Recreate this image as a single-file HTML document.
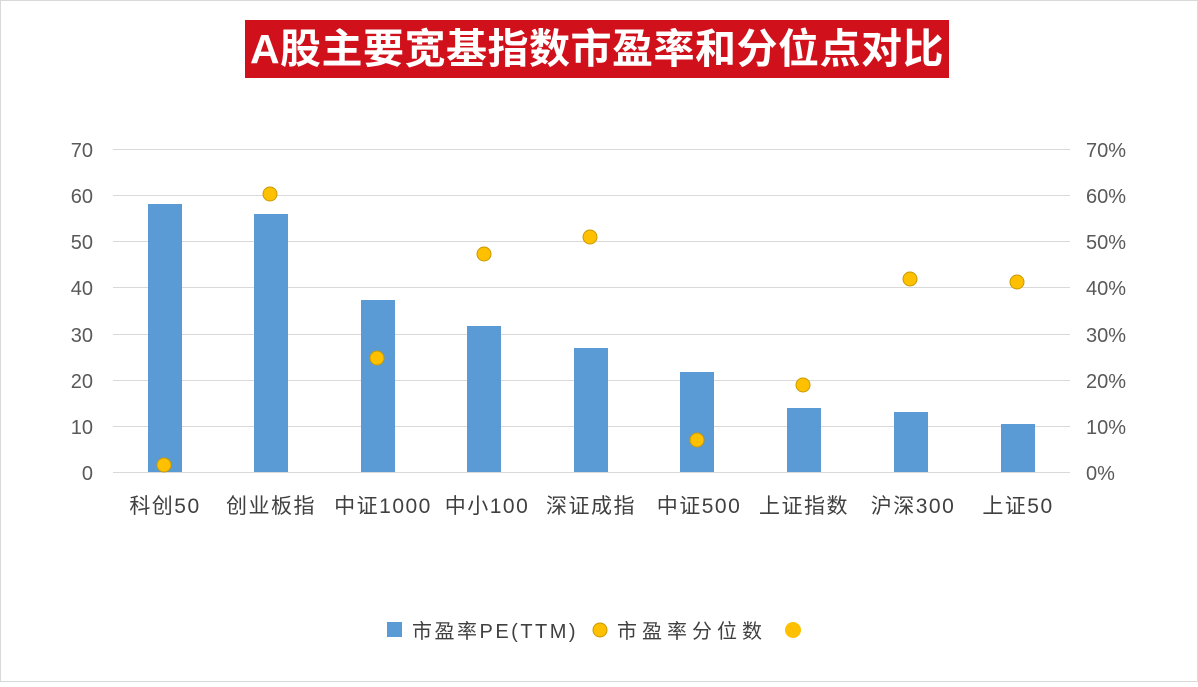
<!DOCTYPE html>
<html><head><meta charset="utf-8"><style>
body{margin:0;background:#fff;}
svg text{font-family:"Liberation Sans","Noto Sans CJK SC",sans-serif;}
</style></head><body>
<svg width="1198" height="682" xmlns="http://www.w3.org/2000/svg">
<rect x="0.5" y="0.5" width="1197" height="681" fill="#fff" stroke="#d9d9d9"/>
<rect x="245" y="20" width="704" height="58" fill="#d0101a"/>
<text x="597" y="63" font-size="41" font-weight="bold" fill="#fff" text-anchor="middle" letter-spacing="0.5">A股主要宽基指数市盈率和分位点对比</text>
<g stroke="#d9d9d9" stroke-width="1">
<line x1="113" x2="1070" y1="149.5" y2="149.5"/>
<line x1="113" x2="1070" y1="195.5" y2="195.5"/>
<line x1="113" x2="1070" y1="241.5" y2="241.5"/>
<line x1="113" x2="1070" y1="287.5" y2="287.5"/>
<line x1="113" x2="1070" y1="334.5" y2="334.5"/>
<line x1="113" x2="1070" y1="380.5" y2="380.5"/>
<line x1="113" x2="1070" y1="426.5" y2="426.5"/>
<line x1="113" x2="1070" y1="472.5" y2="472.5"/>
</g>
<g font-size="20" fill="#595959" text-anchor="end">
<text x="93" y="157">70</text><text x="93" y="203">60</text><text x="93" y="249">50</text><text x="93" y="295">40</text><text x="93" y="342">30</text><text x="93" y="388">20</text><text x="93" y="434">10</text><text x="93" y="480">0</text>
</g>
<g font-size="20" fill="#595959">
<text x="1086" y="157">70%</text><text x="1086" y="203">60%</text><text x="1086" y="249">50%</text><text x="1086" y="295">40%</text><text x="1086" y="342">30%</text><text x="1086" y="388">20%</text><text x="1086" y="434">10%</text><text x="1086" y="480">0%</text>
</g>
<g fill="#5b9bd5">
<rect x="148" y="204" width="34" height="268"/>
<rect x="254" y="214" width="34" height="258"/>
<rect x="361" y="300" width="34" height="172"/>
<rect x="467" y="326" width="34" height="146"/>
<rect x="574" y="348" width="34" height="124"/>
<rect x="680" y="372" width="34" height="100"/>
<rect x="787" y="408" width="34" height="64"/>
<rect x="894" y="412" width="34" height="60"/>
<rect x="1001" y="424" width="34" height="48"/>
</g>
<g fill="#ffc000" stroke="#c99a00" stroke-width="1">
<circle cx="164" cy="465" r="7"/>
<circle cx="270" cy="194" r="7"/>
<circle cx="377" cy="358" r="7"/>
<circle cx="484" cy="254" r="7"/>
<circle cx="590" cy="237" r="7"/>
<circle cx="697" cy="440" r="7"/>
<circle cx="803" cy="385" r="7"/>
<circle cx="910" cy="279" r="7"/>
<circle cx="1017" cy="282" r="7"/>
</g>
<g font-size="21" fill="#404040" text-anchor="middle" letter-spacing="1.5">
<text x="165" y="513">科创50</text>
<text x="271" y="513">创业板指</text>
<text x="383" y="513">中证1000</text>
<text x="487" y="513">中小100</text>
<text x="591" y="513">深证成指</text>
<text x="699" y="513">中证500</text>
<text x="804" y="513">上证指数</text>
<text x="913" y="513">沪深300</text>
<text x="1018" y="513">上证50</text>
</g>
<rect x="387" y="622" width="15" height="15" fill="#5b9bd5"/>
<text x="412" y="638" font-size="20" fill="#404040" letter-spacing="2.5">市盈率PE(TTM)</text>
<circle cx="600" cy="630" r="7" fill="#ffc000" stroke="#c99a00"/>
<text x="617" y="638" font-size="20" fill="#404040" letter-spacing="5">市盈率分位数</text>
<circle cx="793" cy="630" r="8" fill="#ffc000"/>
</svg>
</body></html>
